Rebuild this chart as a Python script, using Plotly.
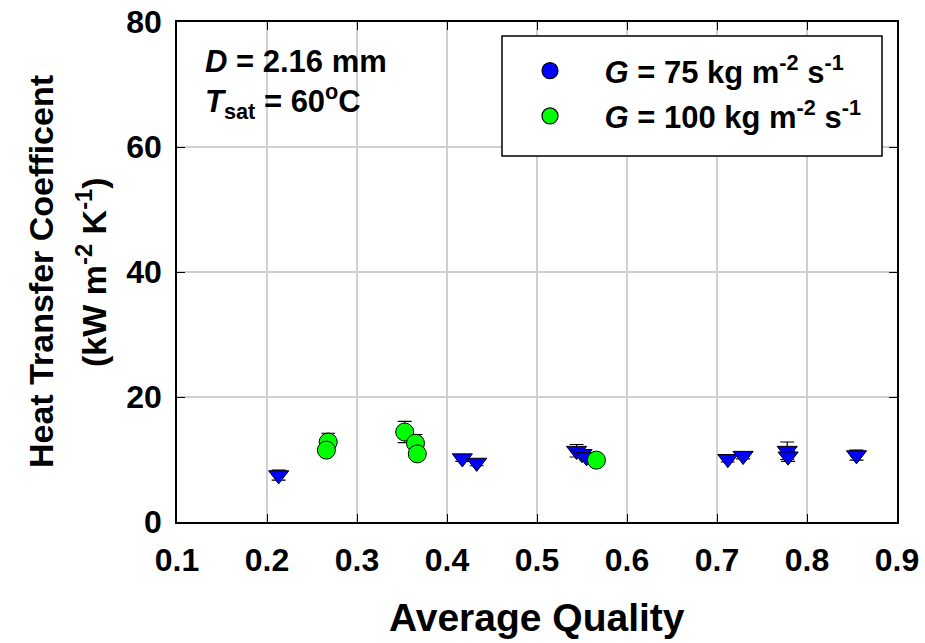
import plotly.graph_objects as go

# ---- data ----
x_g75 = [0.213, 0.417, 0.433, 0.544, 0.550, 0.555, 0.712, 0.729, 0.778, 0.779, 0.855]
y_g75 = [7.5, 10.2, 9.5, 11.4, 10.9, 10.4, 10.1, 10.6, 11.4, 10.5, 10.7]
e_g75 = [0.8, 0.5, 0.5, 1.0, 0.6, 0.5, 0.5, 0.5, 1.4, 0.8, 0.8]

x_g100 = [0.268, 0.266, 0.353, 0.365, 0.367, 0.566]
y_g100 = [12.8, 11.5, 14.4, 12.6, 10.9, 9.9]
e_g100 = [1.4, 0.5, 1.7, 1.4, 0.6, 0.4]

x_ticks = [0.1, 0.2, 0.3, 0.4, 0.5, 0.6, 0.7, 0.8, 0.9]
y_ticks = [0, 20, 40, 60, 80]

NB = "&nbsp;"
name_g75 = NB * 4 + "<i>G</i> = 75 kg m<sup>-2</sup> s<sup>-1</sup>"
name_g100 = NB * 4 + "<i>G</i> = 100 kg m<sup>-2</sup> s<sup>-1</sup>"

FONT = "Liberation Sans, Arial, sans-serif"
OFF = 0  # page body margin (removed via post_script)
W, H = 925, 643
ML, MR, MT, MB = 177, 28, 22, 121
PW = W - ML - MR
PH = H - MT - MB


def px_x(p):  # page pixel -> paper x
    return (p - OFF - ML) / PW


def px_y(p):  # page pixel -> paper y
    return (H - MB - (p - OFF)) / PH


fig = go.Figure()

fig.add_trace(go.Scatter(
    x=x_g75, y=y_g75, mode="markers", showlegend=False,
    marker=dict(symbol="triangle-down", size=17.5, color="#0000ff",
                line=dict(color="black", width=1)),
    error_y=dict(type="data", array=e_g75, color="black", thickness=1.2, width=7),
))
fig.add_trace(go.Scatter(
    x=x_g100, y=y_g100, mode="markers", showlegend=False,
    marker=dict(symbol="circle", size=18, color="#00ff00",
                line=dict(color="black", width=1)),
    error_y=dict(type="data", array=e_g100, color="black", thickness=1.2, width=7),
))
# legend entries (circle symbols as in the original key)
fig.add_trace(go.Scatter(
    x=[None], y=[None], mode="markers", name=name_g75, legendgroup="a",
    marker=dict(symbol="circle", size=18, color="#0000ff",
                line=dict(color="black", width=1.2)),
))
fig.add_trace(go.Scatter(
    x=[None], y=[None], mode="markers", name=name_g100, legendgroup="b",
    marker=dict(symbol="circle", size=18, color="#00ff00",
                line=dict(color="black", width=1.2)),
))

axis_common = dict(
    showline=True, linecolor="black", linewidth=1.5, mirror="ticks",
    ticks="inside", ticklen=8, tickcolor="black", tickwidth=1.2,
    showgrid=True, gridcolor="#cfcfcf", gridwidth=1.5, zeroline=False,
    automargin=False, ticklabeloverflow="allow",
    tickfont=dict(family=FONT, size=32, color="black", weight="bold"),
)

fig.update_xaxes(range=[0.1, 0.9], tickvals=x_ticks,
                 ticktext=[f"{v:.1f}" for v in x_ticks],
                 ticklabelstandoff=9, **axis_common)
fig.update_yaxes(range=[0, 80], tickvals=y_ticks,
                 ticktext=[str(v) for v in y_ticks],
                 ticklabelstandoff=7, **axis_common)

annots = [
    dict(text="Average Quality", xref="paper", yref="paper",
         x=px_x(537), y=px_y(617), xanchor="center", yanchor="middle", showarrow=False,
         font=dict(family=FONT, size=39, color="black", weight="bold")),
    dict(text="Heat Transfer Coefficent", xref="paper", yref="paper",
         x=px_x(41), y=px_y(272), xanchor="center", yanchor="middle", textangle=-90,
         showarrow=False,
         font=dict(family=FONT, size=34, color="black", weight="bold")),
    dict(text="(kW m<sup>-2</sup> K<sup>-1</sup>)", xref="paper", yref="paper",
         x=px_x(91), y=px_y(272), xanchor="center", yanchor="middle", textangle=-90,
         showarrow=False,
         font=dict(family=FONT, size=34, color="black", weight="bold")),
    dict(text="<i>D</i> = 2.16 mm<br><i>T</i><sub>sat</sub> = 60<sup>o</sup>C",
         xref="paper", yref="paper", x=px_x(203), y=px_y(42),
         xanchor="left", yanchor="top", align="left", showarrow=False,
         font=dict(family=FONT, size=31, color="black", weight="bold")),
]

shapes = [
    dict(type="rect", xref="paper", yref="paper",
         x0=px_x(502), x1=px_x(882), y0=px_y(156), y1=px_y(36),
         line=dict(color="black", width=1.5), fillcolor="white", layer="above"),
]

fig.update_layout(
    width=W, height=H,
    margin=dict(l=ML, r=MR, t=MT, b=MB),
    paper_bgcolor="white", plot_bgcolor="white",
    font=dict(family=FONT, color="black"),
    annotations=annots,
    shapes=shapes,
    legend=dict(
        x=px_x(500), y=px_y(44), xanchor="left", yanchor="top",
        bgcolor="rgba(0,0,0,0)", borderwidth=0,
        font=dict(family=FONT, size=31, color="black", weight="bold"),
        indentation=30, itemwidth=30, tracegroupgap=2,
    ),
)

fig.write_html("out.html", config={"displayModeBar": False},
               post_script="document.body.style.margin='0';")
